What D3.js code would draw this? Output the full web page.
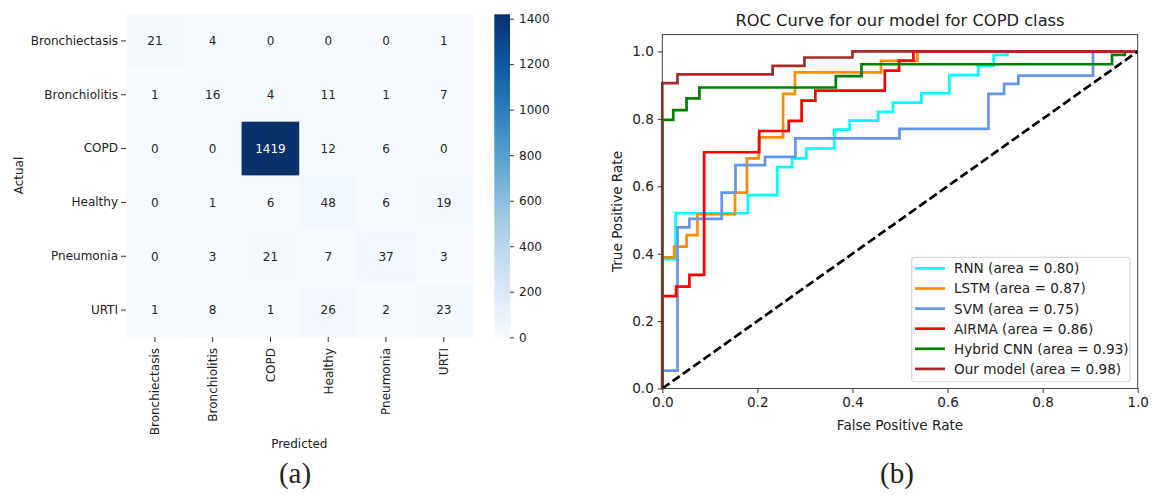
<!DOCTYPE html>
<html>
<head>
<meta charset="utf-8">
<script src="https://cdn.jsdelivr.net/npm/d3@7"></script>
<style>
  body { margin: 0; background: #fff; }
  svg text { font-family: "DejaVu Sans", sans-serif; fill: #222; }
  .caption { font-family: "Liberation Serif", serif; font-size: 29px; }
</style>
</head>
<body>
<svg id="chart" width="1160" height="495"></svg>
<script>
// ---- data ----
var classes = ["Bronchiectasis", "Bronchiolitis", "COPD", "Healthy", "Pneumonia", "URTI"];
var confusion = [
    [21, 4, 0, 0, 0, 1],
    [1, 16, 4, 11, 1, 7],
    [0, 0, 1419, 12, 6, 0],
    [0, 1, 6, 48, 6, 19],
    [0, 3, 21, 7, 37, 3],
    [1, 8, 1, 26, 2, 23]
];
var colorbarTicks = [0, 200, 400, 600, 800, 1000, 1200, 1400];

// roc vertices [fpr, tpr]
var rnnRoc = [[0,0],[0,0.384],[0.028,0.384],[0.028,0.52],[0.18,0.52],[0.18,0.574],[0.242,0.574],[0.242,0.657],
    [0.273,0.657],[0.273,0.683],[0.303,0.683],[0.303,0.712],[0.362,0.712],[0.362,0.768],[0.394,0.768],[0.394,0.795],
    [0.454,0.795],[0.454,0.821],[0.485,0.821],[0.485,0.848],[0.545,0.848],[0.545,0.876],[0.604,0.876],[0.604,0.93],
    [0.665,0.93],[0.665,0.958],[0.697,0.958],[0.697,0.99],[0.726,0.99],[0.726,1],[1,1]];
var lstmRoc = [[0,0],[0,0.389],[0.025,0.389],[0.025,0.421],[0.051,0.421],[0.051,0.455],[0.074,0.455],[0.074,0.517],
    [0.153,0.517],[0.153,0.581],[0.178,0.581],[0.178,0.683],[0.203,0.683],[0.203,0.745],[0.254,0.745],[0.254,0.874],
    [0.279,0.874],[0.279,0.938],[0.46,0.938],[0.46,0.972],[0.537,0.972],[0.537,1],[1,1]];
var svmRoc = [[0,0],[0,0.053],[0.032,0.053],[0.032,0.478],[0.057,0.478],[0.057,0.503],[0.125,0.503],[0.125,0.581],
    [0.154,0.581],[0.154,0.663],[0.216,0.663],[0.216,0.687],[0.28,0.687],[0.28,0.742],[0.499,0.742],[0.499,0.77],
    [0.686,0.77],[0.686,0.874],[0.719,0.874],[0.719,0.904],[0.749,0.904],[0.749,0.928],[0.906,0.928],[0.906,1],[1,1]];
var airmaRoc = [[0,0],[0,0.274],[0.029,0.274],[0.029,0.302],[0.057,0.302],[0.057,0.337],[0.088,0.337],[0.088,0.701],
    [0.204,0.701],[0.204,0.764],[0.266,0.764],[0.266,0.794],[0.293,0.794],[0.293,0.854],[0.322,0.854],[0.322,0.884],
    [0.468,0.884],[0.468,0.943],[0.498,0.943],[0.498,0.973],[0.528,0.973],[0.528,1],[1,1]];
var cnnRoc = [[0,0],[0,0.797],[0.023,0.797],[0.023,0.826],[0.051,0.826],[0.051,0.861],[0.078,0.861],[0.078,0.893],
    [0.365,0.893],[0.365,0.927],[0.419,0.927],[0.419,0.962],[0.946,0.962],[0.946,0.99],[0.973,0.99],[0.973,1],[1,1]];
var ourRoc = [[0,0],[0,0.906],[0.032,0.906],[0.032,0.932],[0.232,0.932],[0.232,0.957],[0.299,0.957],[0.299,0.982],
    [0.4,0.982],[0.4,1],[1,1]];

var modelNames = ["RNN", "LSTM", "SVM", "AIRMA", "Hybrid CNN", "Our model"];
var modelAreas = [0.80, 0.87, 0.75, 0.86, 0.93, 0.98];
var modelColors = ["#00ffff", "#ff8c00", "#6495ed", "#ff0000", "#008000", "#a52a2a"];
var modelRocs = [rnnRoc, lstmRoc, svmRoc, airmaRoc, cnnRoc, ourRoc];
var rocTicks = [0, 0.2, 0.4, 0.6, 0.8, 1.0];

var svg = d3.select("#chart");

// ================= (a) confusion matrix =================
function makeHeatmap(svg) {
    var hm = svg.append("g").attr("class", "heatmap");
    var x = d3.scaleBand().domain(d3.range(6)).range([126, 472.7]);
    var y = d3.scaleBand().domain(d3.range(6)).range([14, 337]);
    var color = d3.scaleSequential(d3.interpolateBlues).domain([0, 1419]);

    var cells = [];
    confusion.forEach(function (row, i) {
        row.forEach(function (v, j) { cells.push({ r: i, c: j, v: v }); });
    });

    hm.selectAll("rect.cell").data(cells).enter().append("rect")
        .attr("class", "cell")
        .attr("x", function (d) { return x(d.c); })
        .attr("y", function (d) { return y(d.r); })
        .attr("width", x.bandwidth() + 0.3)
        .attr("height", y.bandwidth() + 0.3)
        .attr("fill", function (d) { return color(d.v); });

    hm.selectAll("text.annot").data(cells).enter().append("text")
        .attr("class", "annot")
        .attr("x", function (d) { return x(d.c) + x.bandwidth() / 2; })
        .attr("y", function (d) { return y(d.r) + y.bandwidth() / 2; })
        .attr("dy", "0.36em")
        .attr("text-anchor", "middle")
        .style("font-size", "12px")
        .style("fill", function (d) { return d.v > 700 ? "#fff" : "#262626"; })
        .text(function (d) { return d.v; });

    // y axis
    var yAxis = d3.axisLeft(d3.scaleBand().domain(classes).range([14, 337]))
        .tickSize(5).tickPadding(3);
    var gy = hm.append("g").attr("transform", "translate(126,0)").call(yAxis);
    gy.select(".domain").remove();
    gy.selectAll("line").attr("stroke", "#333");
    gy.selectAll("text").style("font-size", "12px").style("fill", "#222");

    // x axis
    var xAxis = d3.axisBottom(d3.scaleBand().domain(classes).range([126, 472.7]))
        .tickSize(5).tickPadding(3);
    var gx = hm.append("g").attr("transform", "translate(0,337)").call(xAxis);
    gx.select(".domain").remove();
    gx.selectAll("line").attr("stroke", "#333");
    gx.selectAll("text")
        .style("font-size", "12px").style("fill", "#222")
        .attr("text-anchor", "end")
        .attr("transform", "rotate(-90)")
        .attr("x", -11).attr("y", 0).attr("dy", "0.36em");

    hm.append("text").attr("x", 299.3).attr("y", 448)
        .attr("text-anchor", "middle").style("font-size", "12px").text("Predicted");
    hm.append("text").attr("transform", "translate(22.5,175.5) rotate(-90)")
        .attr("text-anchor", "middle").style("font-size", "12px").text("Actual");

    // colorbar
    var defs = svg.append("defs");
    var grad = defs.append("linearGradient").attr("id", "cbar")
        .attr("x1", 0).attr("y1", 1).attr("x2", 0).attr("y2", 0);
    d3.range(0, 1.0001, 0.05).forEach(function (t) {
        grad.append("stop").attr("offset", t).attr("stop-color", d3.interpolateBlues(t));
    });
    var cy = d3.scaleLinear().domain([0, 1419]).range([337.3, 14.3]);
    hm.append("rect").attr("x", 494.3).attr("y", 14.3).attr("width", 15.7)
        .attr("height", 323).attr("fill", "url(#cbar)");
    var gc = hm.append("g").attr("transform", "translate(510,0)")
        .call(d3.axisRight(cy).tickValues(colorbarTicks).tickFormat(d3.format("d"))
            .tickSize(4).tickPadding(5));
    gc.select(".domain").remove();
    gc.selectAll("line").attr("stroke", "#333");
    gc.selectAll("text").style("font-size", "12px").style("fill", "#222");

    svg.append("text").attr("class", "caption").attr("x", 295).attr("y", 483)
        .attr("text-anchor", "middle").text("(a)");
}

// ================= (b) ROC curves =================
function makeRoc(svg) {
    var g = svg.append("g").attr("class", "roc");
    var x = d3.scaleLinear().domain([0, 1]).range([662.3, 1137.7]);
    var y = d3.scaleLinear().domain([0, 1.05]).range([388.5, 34.6]);
    var fs = "13.6px";

    var line = d3.line()
        .x(function (d) { return x(d[0]); })
        .y(function (d) { return y(d[1]); });

    g.selectAll("path.roc-line").data(modelRocs).enter().append("path")
        .attr("class", "roc-line")
        .attr("d", line)
        .attr("fill", "none")
        .attr("stroke", function (d, i) { return modelColors[i]; })
        .attr("stroke-width", 2.7)
        .attr("stroke-linejoin", "miter");

    g.append("path")
        .attr("d", line([[0, 0], [1, 1]]))
        .attr("stroke", "#000").attr("stroke-width", 2.7)
        .attr("stroke-dasharray", "8.8,3.8").attr("fill", "none");

    // frame
    g.append("rect").attr("x", 662.3).attr("y", 34.6)
        .attr("width", 475.4).attr("height", 353.9)
        .attr("fill", "none").attr("stroke", "#444").attr("stroke-width", 1);

    var gx = g.append("g").attr("transform", "translate(0,388.5)")
        .call(d3.axisBottom(x).tickValues(rocTicks).tickFormat(d3.format(".1f")).tickSize(4.5).tickPadding(4));
    gx.select(".domain").remove();
    var gy = g.append("g").attr("transform", "translate(662.3,0)")
        .call(d3.axisLeft(y).tickValues(rocTicks).tickFormat(d3.format(".1f")).tickSize(4.5).tickPadding(4));
    gy.select(".domain").remove();
    g.selectAll(".tick line").attr("stroke", "#333");
    g.selectAll(".tick text").style("font-size", fs).style("fill", "#222");

    g.append("text").attr("x", 900).attr("y", 430).attr("text-anchor", "middle")
        .style("font-size", fs).text("False Positive Rate");
    g.append("text").attr("transform", "translate(622,211.5) rotate(-90)")
        .attr("text-anchor", "middle").style("font-size", fs).text("True Positive Rate");
    g.append("text").attr("x", 900).attr("y", 26).attr("text-anchor", "middle")
        .style("font-size", "16.3px").text("ROC Curve for our model for COPD class");

    // legend
    var lg = g.append("g").attr("class", "legend");
    lg.append("rect").attr("x", 911.7).attr("y", 257.3).attr("width", 218.3).attr("height", 124.4)
        .attr("rx", 2.5).attr("fill", "#fff").attr("fill-opacity", 0.8)
        .attr("stroke", "#d0d0d0").attr("stroke-width", 1);
    var row = lg.selectAll("g.item").data(modelNames).enter().append("g")
        .attr("class", "item")
        .attr("transform", function (d, i) { return "translate(0," + (268.4 + i * 20.1) + ")"; });
    row.append("line").attr("x1", 915).attr("x2", 945)
        .attr("stroke", function (d, i) { return modelColors[i]; }).attr("stroke-width", 2.7);
    row.append("text").attr("x", 954).attr("dy", "0.36em").style("font-size", fs)
        .text(function (d, i) { return d + " (area = " + modelAreas[i].toFixed(2) + ")"; });

    svg.append("text").attr("class", "caption").attr("x", 897).attr("y", 483)
        .attr("text-anchor", "middle").text("(b)");
}

makeHeatmap(svg);
makeRoc(svg);
</script>
</body>
</html>
